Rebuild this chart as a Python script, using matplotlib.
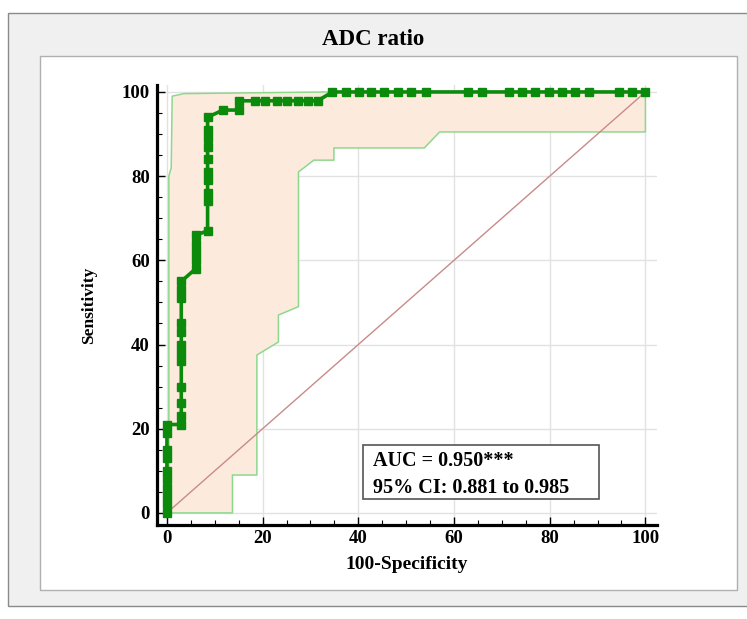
import numpy as np
import matplotlib.pyplot as plt
from matplotlib.patches import Rectangle

plt.rcParams['font.family'] = ['Liberation Serif', 'DejaVu Serif']
plt.rcParams['font.weight'] = 'bold'

# ================================================
# Donnees
title = 'ADC ratio'

# Courbe ROC (100-specificite, sensibilite)
roc_x = [0, 0, 0, 0, 0, 0, 0, 0, 0, 0,
         3, 3, 3, 3, 3, 3, 3, 3, 3, 3, 3, 3,
         6, 6, 6, 6, 6,
         8.5, 8.5, 8.5, 8.5, 8.5, 8.5, 8.5, 8.5, 8.5, 8.5,
         11.7, 15, 15, 18.5, 20.6, 23, 25.2, 27.3, 29.4, 31.5,
         34.6, 37.4, 40.1, 42.6, 45.4, 48.3, 51, 54.2, 63, 65.8,
         71.4, 74.2, 76.9, 79.8, 82.6, 85.3, 88.2, 94.5, 97.3, 100]
roc_y = [0, 2, 4, 6, 8, 10, 13, 15, 19, 21,
         21, 23, 26, 30, 36, 38, 40, 43, 45, 51, 53, 55,
         58, 60, 62, 64, 66,
         67, 74, 76, 79, 81, 84, 87, 89, 91, 94,
         95.7, 95.7, 97.9, 97.9, 97.9, 97.9, 97.9, 97.9, 97.9, 97.9,
         100, 100, 100, 100, 100, 100, 100, 100, 100, 100,
         100, 100, 100, 100, 100, 100, 100, 100, 100, 100]

# Intervalle de confiance a 95%
ci_up_x = [0.4, 0.4, 0.9, 1.1, 3.5, 34, 100]
ci_up_y = [0, 80, 82, 99, 99.6, 100, 100]
ci_lo_x = [0, 13.7, 13.7, 18.8, 18.8, 23.3, 23.3, 27.5, 27.5, 30.7,
           34.9, 34.9, 53.8, 57, 100, 100]
ci_lo_y = [0, 0, 9, 9, 37.5, 40.6, 47, 49, 81, 83.8,
           83.8, 86.7, 86.7, 90.5, 90.5, 100]

auc_text = 'AUC = 0.950***'
ci_text = '95% CI: 0.881 to 0.985'

# ================================================
fig = plt.figure(figsize=(7.47, 6.19), dpi=100)

# Cadres de fond
fig.patches.append(Rectangle((0.0107, 0.021), 1.0, 0.958, transform=fig.transFigure,
                             facecolor='#f0f0f0', edgecolor='#8a8a8a', lw=1, zorder=-10))
fig.patches.append(Rectangle((0.0535, 0.0468), 0.933, 0.863, transform=fig.transFigure,
                             facecolor='white', edgecolor='#b0b0b0', lw=1, zorder=-9))
fig.text(0.5, 0.936, title, ha='center', va='center', fontsize=16.5, fontweight='bold')

ax = fig.add_axes([0.210, 0.152, 0.670, 0.711])
ax.set_facecolor('none')

# Zone de confiance
poly_x = np.r_[ci_up_x, ci_lo_x[::-1]]
poly_y = np.r_[ci_up_y, ci_lo_y[::-1]]
ax.fill(poly_x, poly_y, color='#fcebdd', lw=0, zorder=1)
ax.plot(ci_up_x, ci_up_y, color='#8ed88e', lw=1.1, zorder=2)
ax.plot(ci_lo_x, ci_lo_y, color='#8ed88e', lw=1.1, zorder=2)

# Diagonale
ax.plot([0, 100], [0, 100], color='#c88a8a', lw=1, zorder=2)

# Courbe ROC
ax.plot(roc_x, roc_y, color='#0b8a0b', lw=2.6, marker='s', markersize=6,
        markerfacecolor='#0b8a0b', markeredgecolor='#0b8a0b', zorder=4)

# Encadre AUC
ax.add_patch(Rectangle((41, 3.3), 49.3, 12.9, facecolor='white', edgecolor='#555555',
                       lw=1.2, zorder=5))
ax.text(43.0, 12.4, auc_text, fontsize=14.5, fontweight='bold', va='center', zorder=6)
ax.text(43.0, 5.9, ci_text, fontsize=14.5, fontweight='bold', va='center', zorder=6)

ax.set_xlim(-2.1, 102.5)
ax.set_ylim(-2.85, 101.7)
ax.set_xticks(np.arange(0, 101, 20))
ax.set_yticks(np.arange(0, 101, 20))
ax.set_xticks(np.arange(0, 101, 5), minor=True)
ax.set_yticks(np.arange(0, 101, 5), minor=True)
ax.grid(True, which='major', color='#e2e2e2', lw=1, zorder=0)
ax.set_axisbelow(True)

for s in ['top', 'right']:
    ax.spines[s].set_visible(False)
for s in ['left', 'bottom']:
    ax.spines[s].set_linewidth(2.3)
ax.tick_params(which='major', direction='in', length=6, width=1, labelsize=13.5, pad=4)
ax.tick_params(axis='y', which='major', pad=5)
ax.tick_params(which='minor', direction='in', length=3.5, width=0.8)

ax.set_xlabel('100-Specificity', fontsize=14, fontweight='bold', labelpad=6)
ax.set_ylabel('Sensitivity', fontsize=12.5, fontweight='bold', labelpad=18)

fig.savefig('out.png', dpi=100)
